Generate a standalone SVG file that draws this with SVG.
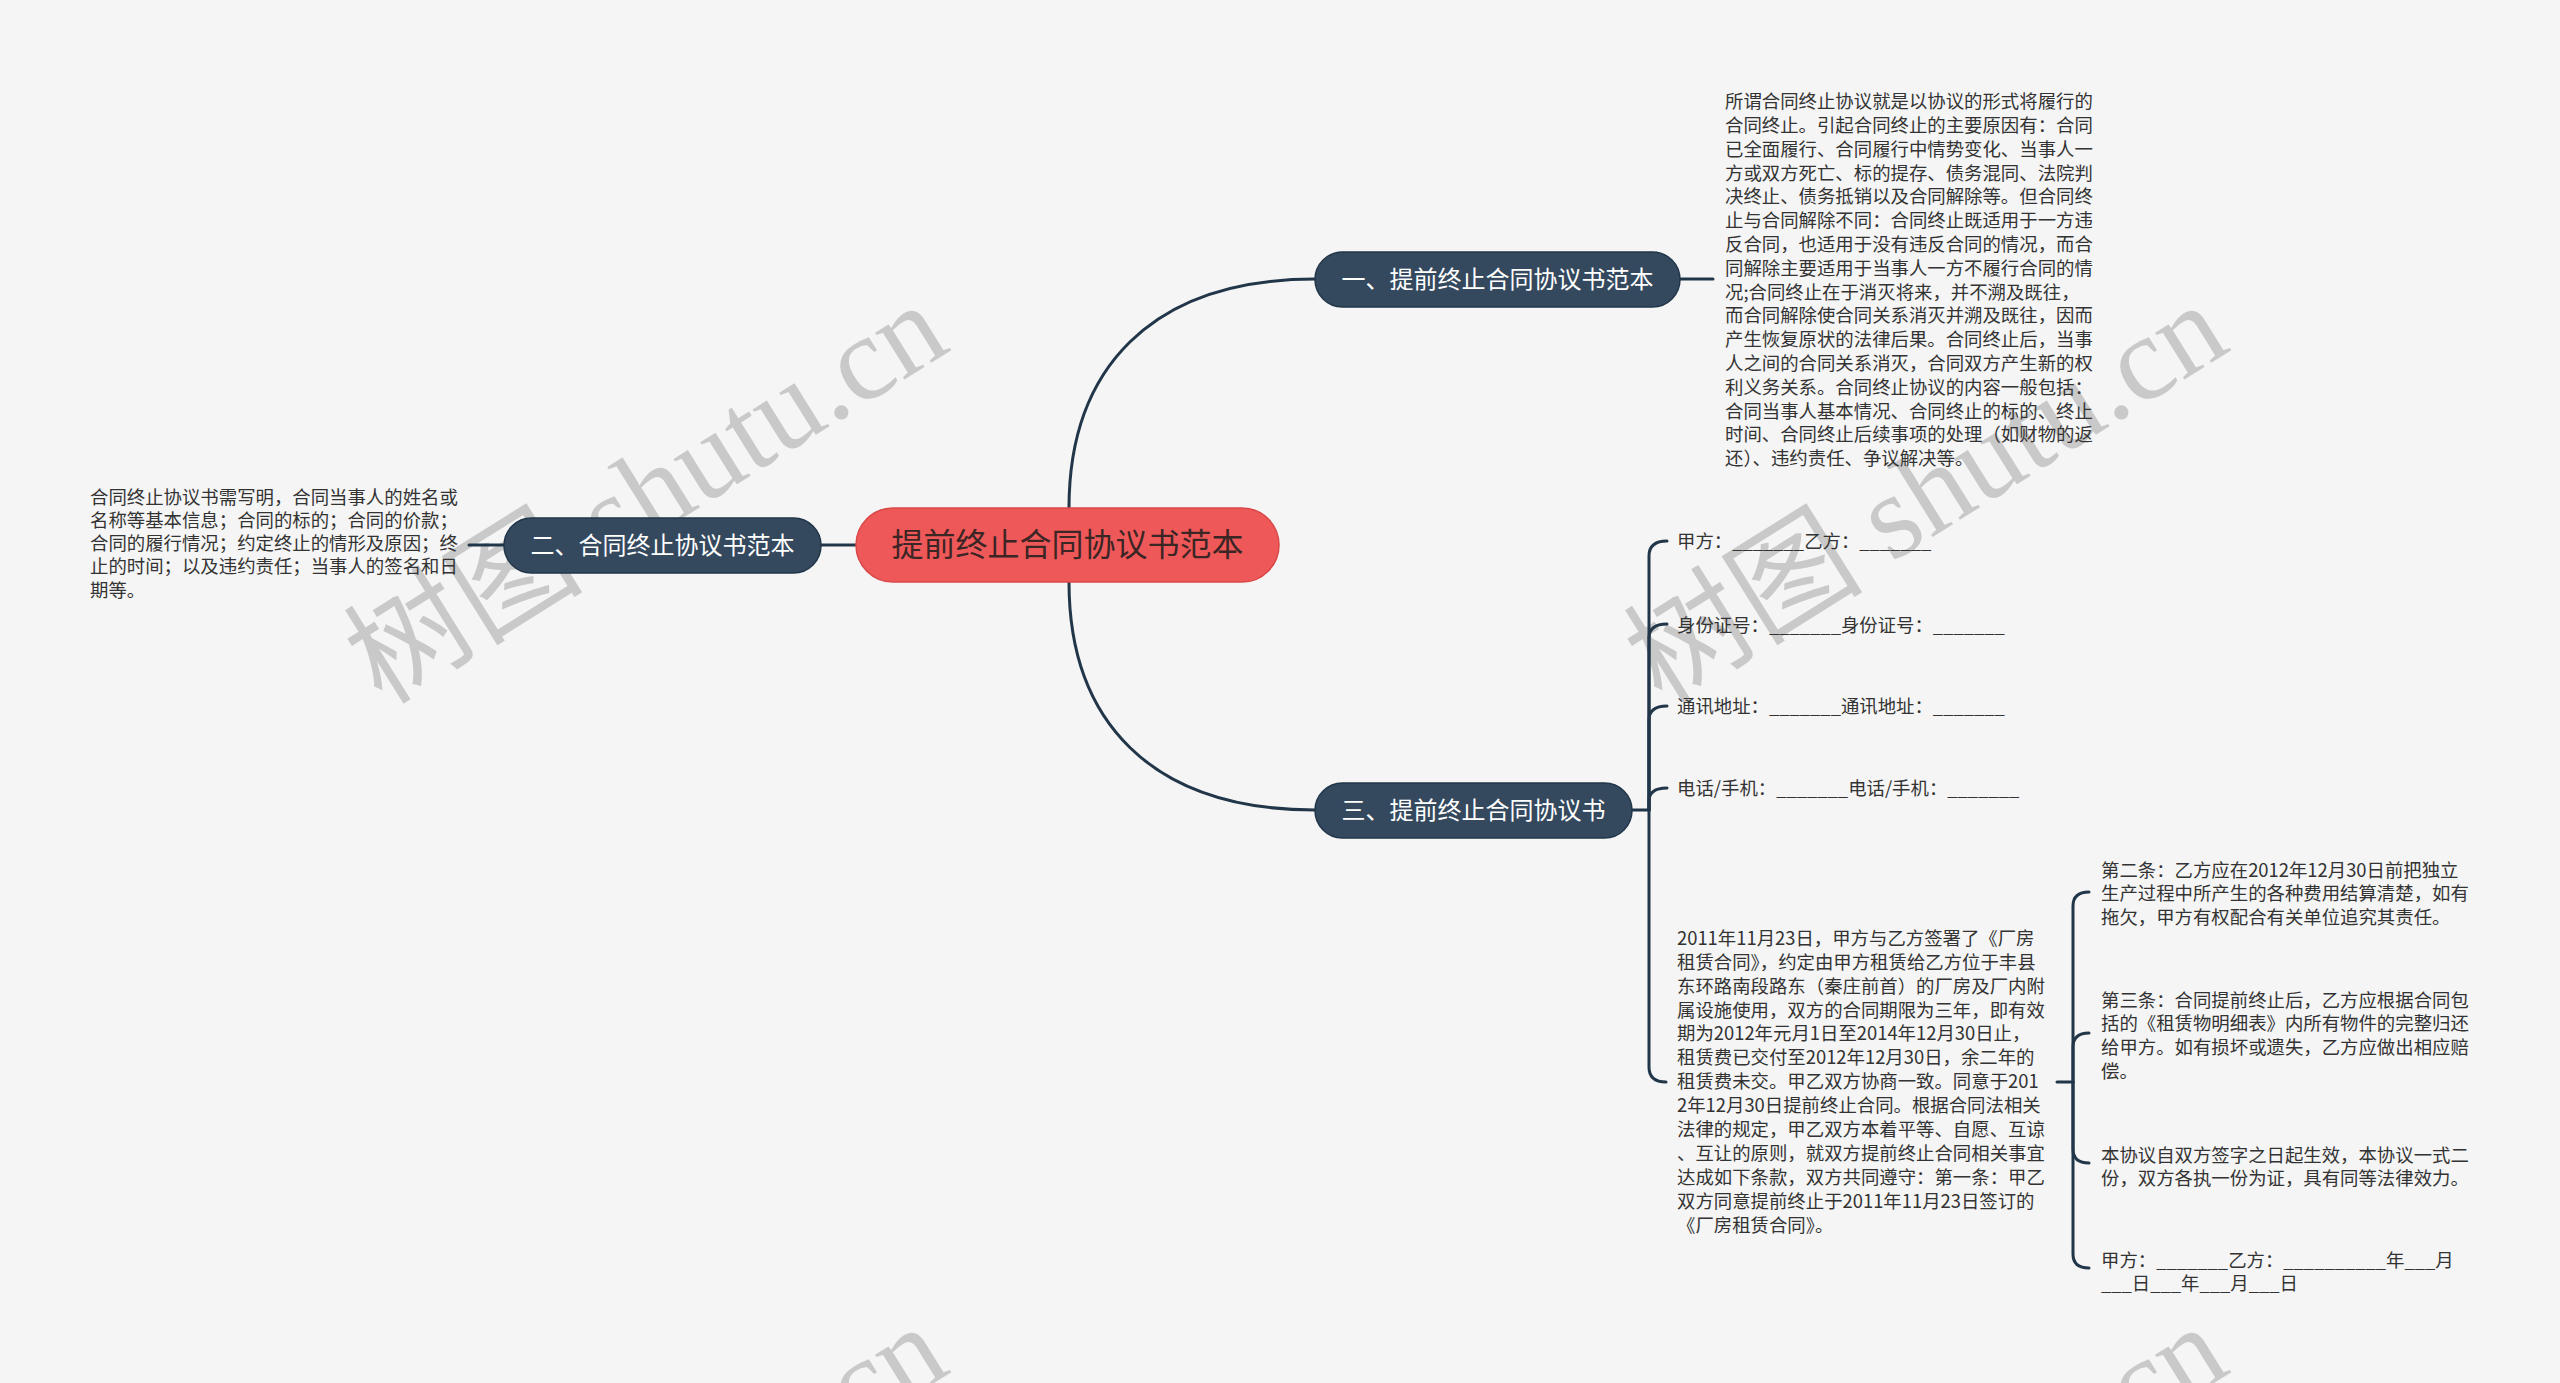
<svg xmlns="http://www.w3.org/2000/svg" width="2560" height="1383" viewBox="0 0 2560 1383">
<style>
.bg{fill:#f5f5f5}
.wm{font-family:"Liberation Serif","Noto Sans CJK SC",serif;font-size:120px;fill:#c9c9c9}
.t{font-family:"Noto Sans CJK SC","Noto Sans",sans-serif;font-size:18.4px;fill:#333333}
.nt{font-family:"Noto Sans CJK SC","Noto Sans",sans-serif;font-size:24px;fill:#ffffff;text-anchor:middle}
.rt{font-family:"Noto Sans CJK SC","Noto Sans",sans-serif;font-size:32px;fill:#3b2525;text-anchor:middle}
.nb{fill:#34495e;stroke:#22364a;stroke-width:1.5}
.rb{fill:#ef5858;stroke:#d94848;stroke-width:1.5}
.c{fill:none;stroke:#22364a;stroke-width:3;stroke-linecap:round}
</style>
<rect class="bg" x="0" y="0" width="2560" height="1383"/>
<g id="watermarks">
<text class="wm" transform="translate(382,706) rotate(-32)">树图 shutu.cn</text>
<text class="wm" transform="translate(1662,706) rotate(-32)">树图 shutu.cn</text>
<text class="wm" transform="translate(382,1728) rotate(-32)">树图 shutu.cn</text>
<text class="wm" transform="translate(1662,1728) rotate(-32)">树图 shutu.cn</text>
</g>
<g id="connectors">
<path class="c" d="M1069 508 C1069 370 1150 279 1315 279"/>
<path class="c" d="M1069 582 C1069 720 1150 810 1315 810"/>
<path class="c" d="M856 545 L821 545"/>
<path class="c" d="M504 545 L469 545"/>
<path class="c" d="M1680 279 L1713 279"/>
<path class="c" d="M1632 810 L1649 810"/>
<path class="c" d="M1649 810 L1649 556 Q1649 541 1667 541"/>
<path class="c" d="M1649 810 L1649 638 Q1649 624 1667 624"/>
<path class="c" d="M1649 810 L1649 720 Q1649 706 1667 706"/>
<path class="c" d="M1649 810 L1649 801 Q1649 788 1667 788"/>
<path class="c" d="M1649 810 L1649 1067 Q1649 1082 1666 1082"/>
<path class="c" d="M2057 1082 L2073 1082"/>
<path class="c" d="M2073 1082 L2073 906 Q2073 892 2089 892"/>
<path class="c" d="M2073 1082 L2073 1047 Q2073 1033 2089 1033"/>
<path class="c" d="M2073 1082 L2073 1149 Q2073 1163 2089 1163"/>
<path class="c" d="M2073 1082 L2073 1254 Q2073 1268 2089 1268"/>
</g>
<g id="root">
<rect class="rb" x="856" y="508" width="423" height="74" rx="37"/>
<text class="rt" x="1067.5" y="556">提前终止合同协议书范本</text>
</g>
<g id="n1">
<rect class="nb" x="1315" y="252" width="365" height="55" rx="27.5"/>
<text class="nt" x="1497.5" y="288">一、提前终止合同协议书范本</text>
</g>
<g id="n2">
<rect class="nb" x="504" y="518" width="317" height="55" rx="27.5"/>
<text class="nt" x="662.5" y="554">二、合同终止协议书范本</text>
</g>
<g id="n3">
<rect class="nb" x="1315" y="783" width="317" height="55" rx="27.5"/>
<text class="nt" x="1473.5" y="819">三、提前终止合同协议书</text>
</g>
<g id="n1-text">
<text class="t" x="1725">
<tspan x="1725" y="108.2">所谓合同终止协议就是以协议的形式将履行的</tspan>
<tspan x="1725" y="132">合同终止。引起合同终止的主要原因有：合同</tspan>
<tspan x="1725" y="155.8">已全面履行、合同履行中情势变化、当事人一</tspan>
<tspan x="1725" y="179.6">方或双方死亡、标的提存、债务混同、法院判</tspan>
<tspan x="1725" y="203.4">决终止、债务抵销以及合同解除等。但合同终</tspan>
<tspan x="1725" y="227.2">止与合同解除不同：合同终止既适用于一方违</tspan>
<tspan x="1725" y="251">反合同，也适用于没有违反合同的情况，而合</tspan>
<tspan x="1725" y="274.8">同解除主要适用于当事人一方不履行合同的情</tspan>
<tspan x="1725" y="298.6">况;合同终止在于消灭将来，并不溯及既往，</tspan>
<tspan x="1725" y="322.4">而合同解除使合同关系消灭并溯及既往，因而</tspan>
<tspan x="1725" y="346.2">产生恢复原状的法律后果。合同终止后，当事</tspan>
<tspan x="1725" y="370">人之间的合同关系消灭，合同双方产生新的权</tspan>
<tspan x="1725" y="393.8">利义务关系。合同终止协议的内容一般包括：</tspan>
<tspan x="1725" y="417.6">合同当事人基本情况、合同终止的标的、终止</tspan>
<tspan x="1725" y="441.4">时间、合同终止后续事项的处理（如财物的返</tspan>
<tspan x="1725" y="465.2">还）、违约责任、争议解决等。</tspan>
</text>
</g>
<g id="n2-text">
<text class="t" x="90">
<tspan x="90" y="503.5">合同终止协议书需写明，合同当事人的姓名或</tspan>
<tspan x="90" y="526.8">名称等基本信息；合同的标的；合同的价款；</tspan>
<tspan x="90" y="550.1">合同的履行情况；约定终止的情形及原因；终</tspan>
<tspan x="90" y="573.4">止的时间；以及违约责任；当事人的签名和日</tspan>
<tspan x="90" y="596.7">期等。</tspan>
</text>
</g>
<g id="n3-1"><text class="t" x="1677" y="548.2">甲方：_______乙方：_______</text></g>
<g id="n3-2"><text class="t" x="1677" y="631.5">身份证号：_______身份证号：_______</text></g>
<g id="n3-3"><text class="t" x="1677" y="713.2">通讯地址：_______通讯地址：_______</text></g>
<g id="n3-4"><text class="t" x="1677" y="794.8">电话/手机：_______电话/手机：_______</text></g>
<g id="n3-5">
<text class="t" x="1677">
<tspan x="1677" y="944.8">2011年11月23日，甲方与乙方签署了《厂房</tspan>
<tspan x="1677" y="968.7">租赁合同》，约定由甲方租赁给乙方位于丰县</tspan>
<tspan x="1677" y="992.6">东环路南段路东（秦庄前首）的厂房及厂内附</tspan>
<tspan x="1677" y="1016.5">属设施使用，双方的合同期限为三年，即有效</tspan>
<tspan x="1677" y="1040.4">期为2012年元月1日至2014年12月30日止，</tspan>
<tspan x="1677" y="1064.3">租赁费已交付至2012年12月30日，余二年的</tspan>
<tspan x="1677" y="1088.2">租赁费未交。甲乙双方协商一致。同意于201</tspan>
<tspan x="1677" y="1112.1">2年12月30日提前终止合同。根据合同法相关</tspan>
<tspan x="1677" y="1136">法律的规定，甲乙双方本着平等、自愿、互谅</tspan>
<tspan x="1677" y="1159.9">、互让的原则，就双方提前终止合同相关事宜</tspan>
<tspan x="1677" y="1183.8">达成如下条款，双方共同遵守：第一条：甲乙</tspan>
<tspan x="1677" y="1207.7">双方同意提前终止于2011年11月23日签订的</tspan>
<tspan x="1677" y="1231.6">《厂房租赁合同》。</tspan>
</text>
</g>
<g id="n3-5-1">
<text class="t" x="2101">
<tspan x="2101" y="876.5">第二条：乙方应在2012年12月30日前把独立</tspan>
<tspan x="2101" y="900.3">生产过程中所产生的各种费用结算清楚，如有</tspan>
<tspan x="2101" y="924.1">拖欠，甲方有权配合有关单位追究其责任。</tspan>
</text>
</g>
<g id="n3-5-2">
<text class="t" x="2101">
<tspan x="2101" y="1006.5">第三条：合同提前终止后，乙方应根据合同包</tspan>
<tspan x="2101" y="1030.3">括的《租赁物明细表》内所有物件的完整归还</tspan>
<tspan x="2101" y="1054.1">给甲方。如有损坏或遗失，乙方应做出相应赔</tspan>
<tspan x="2101" y="1077.9">偿。</tspan>
</text>
</g>
<g id="n3-5-3">
<text class="t" x="2101">
<tspan x="2101" y="1161.5">本协议自双方签字之日起生效，本协议一式二</tspan>
<tspan x="2101" y="1185.3">份，双方各执一份为证，具有同等法律效力。</tspan>
</text>
</g>
<g id="n3-5-4">
<text class="t" x="2101">
<tspan x="2101" y="1266.5">甲方：_______乙方：__________年___月</tspan>
<tspan x="2101" y="1290.3">___日___年___月___日</tspan>
</text>
</g>
</svg>
